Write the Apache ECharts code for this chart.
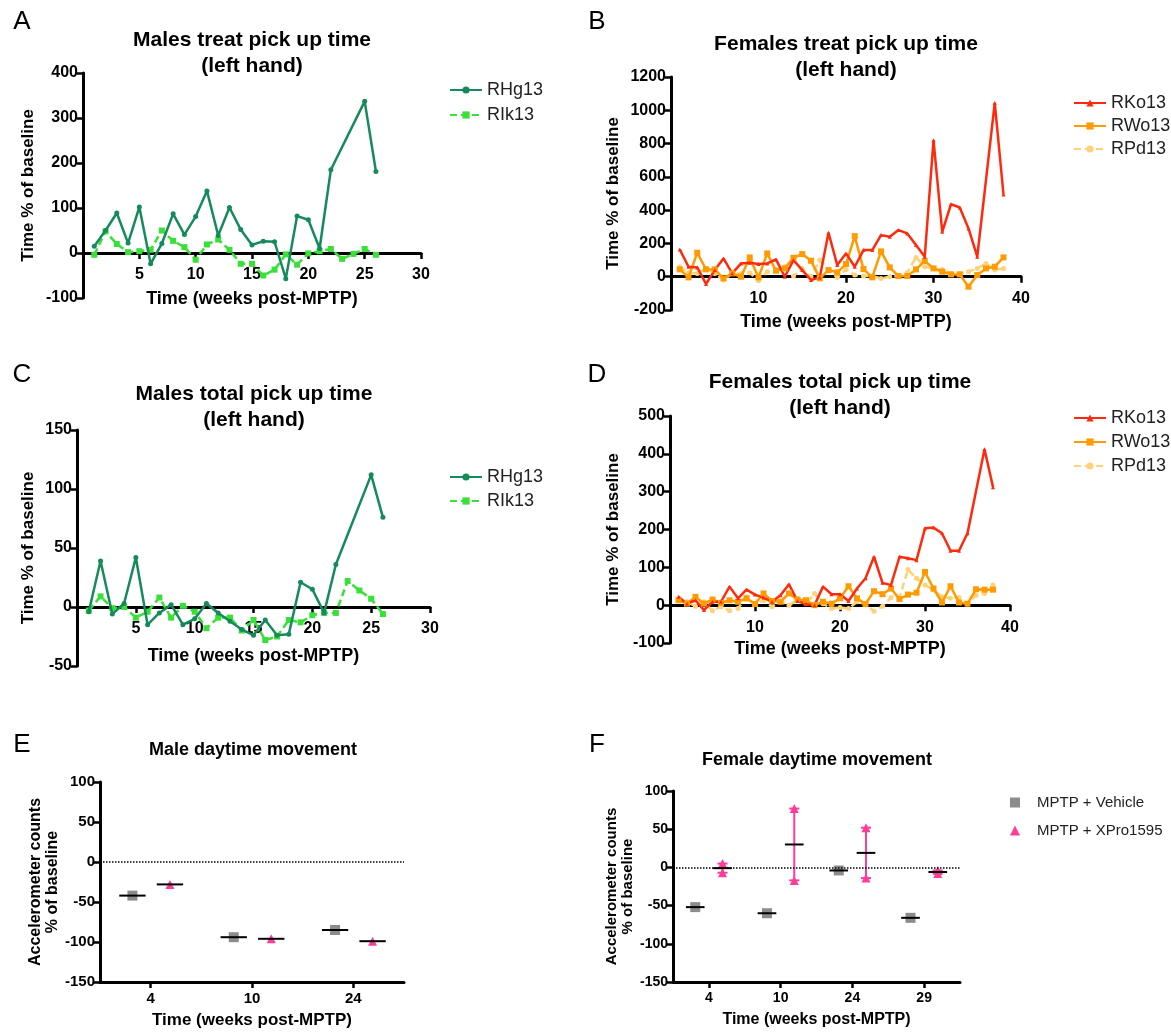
<!DOCTYPE html>
<html>
<head>
<meta charset="utf-8">
<title>Pick up time and daytime movement after MPTP</title>
<script src="https://cdn.jsdelivr.net/npm/echarts@6/dist/echarts.min.js"></script>
<style>
  html, body { margin: 0; padding: 0; background: #fff; }
  #chart { width: 1171px; height: 1034px; }
</style>
</head>
<body>
<div id="chart"></div>
<script>
// weeks post-MPTP
const weeksM = [1, 2, 3, 4, 5, 6, 7, 8, 9, 10, 11, 12, 13, 14, 15, 16, 17, 18, 19, 20, 21, 22, 23, 24, 25, 26];
const weeksF = [1, 2, 3, 4, 5, 6, 7, 8, 9, 10, 11, 12, 13, 14, 15, 16, 17, 18, 19, 20, 21, 22, 23, 24, 25, 26, 27, 28, 29, 30, 31, 32, 33, 34, 35, 36, 37, 38];

// A - males treat pick up time
const maleTreatRHg = [15, 50, 89, 22, 102, -24, 21, 87, 41, 81, 138, 39, 101, 52, 18, 26, 25, -57, 82, 74, 10, 185, null, null, 337, 181];
const maleTreatRIk = [-4, 48, 20, 2, 4, 7, 50, 27, 13, -15, 19, 30, 7, -24, -24, -50, -37, -3, -26, -1, 4, 9, -13, -2, 9, -4];

// B - females treat pick up time
const femTreatRKo = [164, 60, 56, -44, 40, 110, 20, 80, 84, 76, 80, 104, 0, 100, 40, -20, -4, 264, 70, 140, 60, 160, 160, 250, 240, 280, 260, 190, 120, 820, 270, 436, 416, 290, 120, null, 1044, 494];
const femTreatRWo = [44, -4, 144, 44, 44, -10, 20, 0, 116, -4, 140, 36, 50, 114, 136, 96, -10, 40, 26, 76, 244, 46, -4, 152, 56, 4, 4, 44, 94, 50, 30, 14, 14, -60, 10, 50, 60, 116];
const femTreatRPd = [60, 24, 20, 50, 20, -20, 20, 20, 24, -24, 30, 40, 60, 4, 50, 0, 100, 40, -4, 44, 10, 4, 4, -10, 0, 4, 24, 116, 60, 50, 44, 20, 20, 30, 50, 80, 40, 50];

// C - males total pick up time
const maleTotalRHg = [-4, 39, -6, 3, 42, -15, -5, 2, -15, -10, 3, -5, -12, -19, -24, -11, -24, -23, 21, 15, -5, 36, null, null, 112, 76];
const maleTotalRIk = [-3, 9, -1, 0, -9, -4, 8, -9, 1, -4, -18, -9, -9, -20, -11, -28, -25, -11, -13, -7, -5, -5, 22, 14, 7, -6];

// D - females total pick up time
const femTotalRKo = [22, 4, 13, -13, 9, 9, 49, 18, 41, 28, 20, 9, 26, 55, 11, 3, 0, 49, 29, 29, 11, 44, 71, 128, 59, 53, 128, 124, 119, 203, 205, 190, 144, 144, 190, null, 412, 312];
const femTotalRWo = [13, 4, 22, 4, 15, 6, 13, 9, 18, 3, 31, 11, 9, 31, 15, 13, 0, 9, 4, 18, 50, 18, 3, 37, 29, 44, 16, 28, 33, 88, 44, 7, 50, 7, 4, 42, 41, 41];
const femTotalRPd = [13, 9, -3, 9, -15, -4, -15, -9, 22, 3, 13, -4, 9, 0, 13, 4, 31, 4, -9, -6, -9, 9, 3, -16, -3, 20, 20, 94, 71, 53, 40, 22, 18, 20, 3, 26, 31, 53];

// E / F - daytime movement
const moveWeeksM = ['4', '10', '24'];
const maleVehicle = [-42, -94, -85];
const maleXPro = [-28, -96, -99];

const moveWeeksF = ['4', '10', '24', '29'];
const femVehicle = [-52, -60, -4, -66];
const femXProA = [5, 77, 52, -8];
const femXProB = [-7, -17, -14, -4];

const font = 'Liberation Sans, Arial, sans-serif';
const GREEN = '#158a5a', LIME = '#38e038';
const RED = '#ff2a0d', ORANGE = '#ff9a00', PALE = '#ffd27a';
const GREY = '#8c8c8c', PINK = '#ff3d99';

// grid boxes [left, top, right, bottom] and y ranges for the four time-course panels
const boxes = [[83, 73, 421, 298], [671, 77, 1021, 310], [77, 430, 430, 666], [670, 416, 1010, 643]];
const yRanges = [[-100, 400, 100], [-200, 1200, 200], [-50, 150, 50], [-100, 500, 100]];

function box(b) {
    return { left: b[0], top: b[1], width: b[2] - b[0], height: b[3] - b[1], containLabel: false };
}

// x axis drawn through y = 0, labels right under it
function timeAxis(gi, max, gap) {
    const h = boxes[gi][3] - boxes[gi][1];
    const r = yRanges[gi];
    return {
        type: 'value', gridIndex: gi, min: 0, max: max, interval: max === 30 ? 5 : 10,
        offset: -h * (0 - r[0]) / (r[1] - r[0]),
        name: 'Time (weeks post-MPTP)', nameLocation: 'middle', nameGap: gap,
        nameTextStyle: { fontSize: 18, fontWeight: 'bold', color: '#000', fontFamily: font },
        axisLine: { show: true, onZero: false, lineStyle: { color: '#000', width: 3 } },
        axisTick: { show: true, length: 6, lineStyle: { color: '#000', width: 2.5 } },
        axisLabel: {
            fontSize: 16, fontWeight: 'bold', color: '#000', fontFamily: font, margin: 14,
            formatter: v => (v === 0 ? '' : String(v))
        },
        splitLine: { show: false }
    };
}

function pctAxis(gi, min, max, interval, name, gap, size) {
    return {
        type: 'value', gridIndex: gi, min: min, max: max, interval: interval,
        name: name, nameLocation: 'middle', nameRotate: 90, nameGap: gap,
        nameTextStyle: { fontSize: size + 1, fontWeight: 'bold', color: '#000', fontFamily: font, lineHeight: size + 2, align: 'center' },
        axisLine: { show: true, onZero: false, lineStyle: { color: '#000', width: 3 } },
        axisTick: { show: true, length: 6, lineStyle: { color: '#000', width: 2.5 } },
        axisLabel: { fontSize: size, fontWeight: 'bold', color: '#000', fontFamily: font, margin: 5, formatter: v => String(v) },
        splitLine: { show: false }
    };
}

function catAxis(gi, cats, size, gap) {
    return {
        type: 'category', gridIndex: gi, data: cats, boundaryGap: true,
        name: 'Time (weeks post-MPTP)', nameLocation: 'middle', nameGap: gap,
        nameTextStyle: { fontSize: size + 2, fontWeight: 'bold', color: '#000', fontFamily: font },
        axisLine: { show: true, onZero: false, lineStyle: { color: '#000', width: 3 } },
        axisTick: { show: true, alignWithLabel: true, length: 6, lineStyle: { color: '#000', width: 2.5 } },
        axisLabel: { fontSize: size, fontWeight: 'bold', color: '#000', fontFamily: font, margin: 9 }
    };
}

// hidden value axis used to place points left / right of each category
function slotAxis(gi, n) {
    return { type: 'value', gridIndex: gi, min: -0.5, max: n - 0.5, show: false, axisLine: { onZero: false } };
}

function trace(name, gi, weeks, values, color, symbol, size, dashed) {
    return {
        name: name, type: 'line', xAxisIndex: gi, yAxisIndex: gi,
        data: weeks.map((w, i) => [w, values[i]]).filter(p => p[1] !== null),
        symbol: symbol, symbolSize: size, showSymbol: true,
        itemStyle: { color: color },
        lineStyle: { color: color, width: 2.5, type: dashed ? [7, 4] : 'solid' },
        z: dashed ? 2 : 3
    };
}

function points(name, xi, yi, groups, offset, symbol, size, color) {
    const data = [];
    groups.forEach(arr => arr.forEach((v, i) => data.push([i + offset, v])));
    return {
        name: name, type: 'scatter', xAxisIndex: xi, yAxisIndex: yi,
        data: data, symbol: symbol, symbolSize: size,
        itemStyle: { color: color, opacity: 1 }, z: 3
    };
}

function meanLines(xi, yi, groups, offset) {
    const data = groups[0].map((v, i) => {
        const vals = groups.map(g => g[i]);
        return [i + offset, vals.reduce((a, b) => a + b, 0) / vals.length];
    });
    return {
        type: 'custom', xAxisIndex: xi, yAxisIndex: yi, data: data, z: 5,
        encode: { x: 0, y: 1 },
        renderItem: function (params, api) {
            const x = api.value(0), y = api.value(1);
            const p1 = api.coord([x - 0.13, y]);
            const p2 = api.coord([x + 0.13, y]);
            return { type: 'line', shape: { x1: p1[0], y1: p1[1], x2: p2[0], y2: p2[1] }, style: { stroke: '#000', lineWidth: 2 } };
        }
    };
}

function rangeBars(xi, yi, a, b, offset) {
    const data = a.map((v, i) => [i + offset, Math.min(v, b[i]), Math.max(v, b[i])]);
    return {
        type: 'custom', xAxisIndex: xi, yAxisIndex: yi, data: data, z: 2,
        encode: { x: 0, y: [1, 2] },
        renderItem: function (params, api) {
            const x = api.value(0);
            const lo = api.coord([x, api.value(1)]);
            const hi = api.coord([x, api.value(2)]);
            const st = { stroke: PINK, lineWidth: 2 };
            return {
                type: 'group', children: [
                    { type: 'line', shape: { x1: lo[0], y1: lo[1], x2: hi[0], y2: hi[1] }, style: st },
                    { type: 'line', shape: { x1: lo[0] - 5, y1: lo[1], x2: lo[0] + 5, y2: lo[1] }, style: st },
                    { type: 'line', shape: { x1: hi[0] - 5, y1: hi[1], x2: hi[0] + 5, y2: hi[1] }, style: st }
                ]
            };
        }
    };
}

function label(x, y, text, size, bold) {
    return {
        type: 'text', x: x, y: y, silent: true,
        style: {
            text: text, fill: '#000', fontSize: size, fontWeight: bold ? 'bold' : 'normal', fontFamily: font,
            align: 'center', verticalAlign: 'middle', lineHeight: size + 5
        }
    };
}

function legendBox(names, left, top, gap) {
    return {
        data: names, left: left, top: top, orient: 'vertical', padding: 0,
        itemGap: gap, itemWidth: 32, itemHeight: 9, selectedMode: false,
        textStyle: { fontSize: 18, color: '#222', fontFamily: font }
    };
}

const zeroLine = {
    silent: true, symbol: 'none', label: { show: false },
    lineStyle: { color: '#000', type: 'dotted', width: 1.5 },
    data: [{ yAxis: 0 }]
};

let myChart = echarts.init(document.getElementById('chart'));

let maleVehicleSeries = points('MPTP + Vehicle', 5, 4, [maleVehicle], -0.18, 'rect', 10, GREY);
maleVehicleSeries.markLine = zeroLine;
let femVehicleSeries = points('MPTP + Vehicle', 7, 5, [femVehicle], -0.19, 'rect', 10, GREY);
femVehicleSeries.markLine = zeroLine;

let option = {
    animation: false,
    backgroundColor: '#fff',
    grid: [
        box(boxes[0]),
        box(boxes[1]),
        box(boxes[2]),
        box(boxes[3]),
        box([100, 782, 404, 982]),
        box([673, 791, 960, 982])
    ],
    xAxis: [
        timeAxis(0, 30, 37),
        timeAxis(1, 40, 36),
        timeAxis(2, 30, 40),
        timeAxis(3, 40, 35),
        catAxis(4, moveWeeksM, 15, 30),
        slotAxis(4, moveWeeksM.length),
        catAxis(5, moveWeeksF, 14, 30),
        slotAxis(5, moveWeeksF.length)
    ],
    yAxis: [
        pctAxis(0, yRanges[0][0], yRanges[0][1], yRanges[0][2], 'Time % of baseline', 46, 16),
        pctAxis(1, yRanges[1][0], yRanges[1][1], yRanges[1][2], 'Time % of baseline', 49, 16),
        pctAxis(2, yRanges[2][0], yRanges[2][1], yRanges[2][2], 'Time % of baseline', 40, 16),
        pctAxis(3, yRanges[3][0], yRanges[3][1], yRanges[3][2], 'Time % of baseline', 48, 16),
        pctAxis(4, -150, 100, 50, 'Accelerometer counts\n% of baseline', 38, 15),
        pctAxis(5, -150, 100, 50, 'Accelerometer counts\n% of baseline', 36, 14)
    ],
    legend: [
        legendBox(['RHg13', 'RIk13'], 449, 81, 7),
        legendBox(['RKo13', 'RWo13', 'RPd13'], 1073, 94, 5),
        legendBox(['RHg13', 'RIk13'], 449, 468, 6),
        legendBox(['RKo13', 'RWo13', 'RPd13'], 1073, 409, 6),
        {
            data: ['MPTP + Vehicle', 'MPTP + XPro1595'], left: 1010, top: 795, orient: 'vertical',
            padding: 0, itemGap: 13, itemWidth: 10, itemHeight: 10, selectedMode: false,
            textStyle: { fontSize: 15, color: '#222', fontFamily: font, padding: [0, 0, 0, 12] }
        }
    ],
    graphic: [
        label(22, 22, 'A', 26, false),
        label(597, 22, 'B', 26, false),
        label(22, 375, 'C', 26, false),
        label(597, 375, 'D', 26, false),
        label(22, 745, 'E', 26, false),
        label(597, 745, 'F', 26, false),
        label(252, 53, 'Males treat pick up time\n(left hand)', 21, true),
        label(846, 57, 'Females treat pick up time\n(left hand)', 21, true),
        label(254, 407, 'Males total pick up time\n(left hand)', 21, true),
        label(840, 395, 'Females total pick up time\n(left hand)', 21, true),
        label(253, 750, 'Male daytime movement', 18, true),
        label(817, 760, 'Female daytime movement', 18, true)
    ],
    series: [
        trace('RIk13', 0, weeksM, maleTreatRIk, LIME, 'rect', 6, true),
        trace('RHg13', 0, weeksM, maleTreatRHg, GREEN, 'circle', 5, false),

        trace('RPd13', 1, weeksF, femTreatRPd, PALE, 'circle', 5, true),
        trace('RWo13', 1, weeksF, femTreatRWo, ORANGE, 'rect', 6, false),
        trace('RKo13', 1, weeksF, femTreatRKo, RED, 'triangle', 4, false),

        trace('RIk13', 2, weeksM, maleTotalRIk, LIME, 'rect', 6, true),
        trace('RHg13', 2, weeksM, maleTotalRHg, GREEN, 'circle', 5, false),

        trace('RPd13', 3, weeksF, femTotalRPd, PALE, 'circle', 5, true),
        trace('RWo13', 3, weeksF, femTotalRWo, ORANGE, 'rect', 6, false),
        trace('RKo13', 3, weeksF, femTotalRKo, RED, 'triangle', 4, false),

        maleVehicleSeries,
        points('MPTP + XPro1595', 5, 4, [maleXPro], 0.19, 'triangle', 9, PINK),
        meanLines(5, 4, [maleVehicle], -0.18),
        meanLines(5, 4, [maleXPro], 0.19),

        femVehicleSeries,
        rangeBars(7, 5, femXProA, femXProB, 0.19),
        points('MPTP + XPro1595', 7, 5, [femXProA, femXProB], 0.19, 'triangle', 9, PINK),
        meanLines(7, 5, [femVehicle], -0.19),
        meanLines(7, 5, [femXProA, femXProB], 0.19)
    ]
};
myChart.setOption(option);
</script>
</body>
</html>
